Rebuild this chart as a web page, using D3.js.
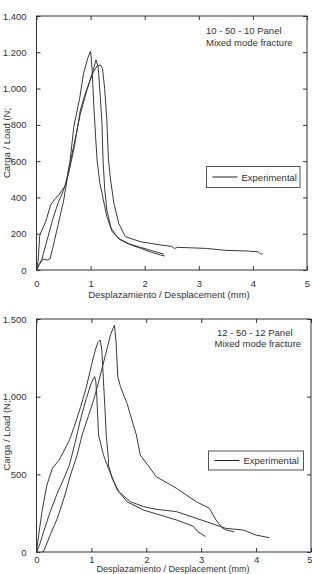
<!DOCTYPE html>
<html><head><meta charset="utf-8">
<script src="https://cdn.jsdelivr.net/npm/d3@7/dist/d3.min.js"></script>
<style>
html,body{margin:0;padding:0;background:#fff;}
svg{display:block;font-family:"Liberation Sans",Arial,sans-serif;}
</style></head>
<body>
<svg id="c" width="312" height="574"></svg>
<script>
// ---------- data ----------
const xTicks = [0,1,2,3,4,5];
const topYTicks = [0,200,400,600,800,1000,1200,1400];
const botYTicks = [0,500,1000,1500];
const topTitle = ["10 - 50 - 10 Panel","Mixed mode fracture"];
const botTitle = ["12 - 50 - 12 Panel","Mixed mode fracture"];
const legendLabel = "Experimental";
const xLabel = "Desplazamiento / Desplacement (mm)";
const yLabel = "Carga / Load (N;";

// 10-50-10 panel specimens [displacement mm, load N]
const top1 = [[0,0],[0.03,50],[0.06,190],[0.1,220],[0.17,266],[0.26,358],[0.35,395],[0.41,413],[0.54,469],[0.62,600],[0.69,790],[0.8,950],[0.87,1084],[0.95,1170],[1.0,1207],[1.03,1100],[1.06,900],[1.1,700],[1.12,606],[1.17,480],[1.21,423],[1.3,294],[1.4,211],[1.55,165],[1.75,138],[1.92,120],[2.1,100],[2.29,83],[2.37,77]];
const top2 = [[0,0],[0.05,30],[0.12,60],[0.2,55],[0.25,62],[0.3,120],[0.4,250],[0.5,380],[0.6,560],[0.7,700],[0.81,860],[0.93,990],[1.03,1084],[1.1,1158],[1.14,1120],[1.18,950],[1.21,809],[1.23,606],[1.26,450],[1.3,330],[1.38,230],[1.5,178],[1.7,145],[1.92,125],[2.15,105],[2.3,92],[2.35,88]];
const top3 = [[0,0],[0.05,30],[0.1,60],[0.2,170],[0.3,280],[0.4,370],[0.5,440],[0.6,540],[0.7,680],[0.81,880],[0.9,970],[0.97,1029],[1.05,1090],[1.12,1125],[1.18,1130],[1.22,1110],[1.26,1000],[1.3,827],[1.33,606],[1.37,496],[1.43,368],[1.52,257],[1.64,184],[1.92,156],[2.29,138],[2.5,130],[2.55,118],[2.6,125],[3.14,119],[3.5,108],[3.87,105],[4.1,100],[4.15,85],[4.18,92]];

// 12-50-12 panel specimens
const bot1 = [[0,0],[0.04,110],[0.1,260],[0.19,431],[0.29,539],[0.41,592],[0.5,650],[0.6,720],[0.68,800],[0.8,930],[0.9,1050],[1.0,1200],[1.07,1300],[1.12,1350],[1.16,1365],[1.19,1300],[1.22,1100],[1.25,900],[1.27,753],[1.31,600],[1.31,560],[1.38,474],[1.5,388],[1.71,324],[1.95,292],[2.18,275],[2.55,260],[2.91,217],[3.27,174],[3.45,152],[3.76,142],[4.0,109],[4.24,92]];
const bot2 = [[0,0],[0.05,40],[0.13,130],[0.25,260],[0.38,380],[0.5,474],[0.6,560],[0.7,700],[0.8,850],[0.9,980],[1.0,1090],[1.06,1129],[1.08,1100],[1.1,990],[1.13,753],[1.22,624],[1.31,539],[1.47,399],[1.65,324],[1.95,270],[2.25,238],[2.55,206],[2.85,167],[2.94,131],[3.08,99]];
const bot3 = [[0.1,0],[0.13,5],[0.25,110],[0.38,217],[0.5,346],[0.62,496],[0.74,624],[0.83,753],[0.95,880],[1.05,990],[1.15,1120],[1.25,1260],[1.35,1400],[1.42,1461],[1.45,1350],[1.48,1130],[1.53,1064],[1.6,1000],[1.65,957],[1.71,882],[1.82,753],[1.89,624],[2.07,539],[2.18,485],[2.55,410],[2.91,324],[3.15,281],[3.27,206],[3.39,152],[3.47,140],[3.6,130]];

// ---------- drawing ----------
const svg = d3.select("#c");
const loc = d3.formatLocale({decimal:",",thousands:".",grouping:[3],currency:["",""]});
const fmt = loc.format(",d");
const ink = "#333";

function panel(cfg){
  const x = d3.scaleLinear().domain([0,5]).range([cfg.l,cfg.r]);
  const y = d3.scaleLinear().domain([0,cfg.ymax]).range([cfg.b,cfg.t]);
  const g = svg.append("g");
  const tl = 4;
  const styleAxis = sel => {
    sel.select(".domain").remove();
    sel.selectAll("line").attr("stroke",ink);
    sel.selectAll("text").attr("fill",ink).style("font-size","9.5px").style("font-family","'Liberation Sans',Arial,sans-serif");
  };
  // bottom
  const bx = g.append("g").attr("transform",`translate(0,${cfg.b})`)
    .call(d3.axisBottom(x).tickValues(xTicks).tickSizeInner(-tl).tickSizeOuter(0).tickPadding(cfg.xpad).tickFormat(d3.format("d")))
    .call(styleAxis);
  if (cfg.clampLast) {
    bx.selectAll(".tick").filter(d=>d===5).select("text").attr("text-anchor","end").attr("x",312-cfg.r);
  }
  // top
  g.append("g").attr("transform",`translate(0,${cfg.t})`)
    .call(d3.axisTop(x).tickValues(xTicks).tickSizeInner(-tl).tickSizeOuter(0).tickFormat(""))
    .call(styleAxis);
  // left
  g.append("g").attr("transform",`translate(${cfg.l},0)`)
    .call(d3.axisLeft(y).tickValues(cfg.yticks).tickSizeInner(-tl).tickSizeOuter(0).tickPadding(10).tickFormat(fmt))
    .call(styleAxis);
  // right
  g.append("g").attr("transform",`translate(${cfg.r},0)`)
    .call(d3.axisRight(y).tickValues(cfg.yticks).tickSizeInner(-tl).tickSizeOuter(0).tickFormat(""))
    .call(styleAxis);
  // frame
  g.append("rect").attr("x",cfg.l).attr("y",cfg.t).attr("width",cfg.r-cfg.l).attr("height",cfg.b-cfg.t)
    .attr("fill","none").attr("stroke",ink).attr("stroke-width",1);
  // lines
  const line = d3.line().x(d=>x(d[0])).y(d=>y(d[1]));
  cfg.series.forEach(s=>{
    g.append("path").datum(s).attr("d",line).attr("fill","none").attr("stroke","#3a3a3a").attr("stroke-width",1);
  });
  // titles
  cfg.title.forEach((t,i)=>{
    g.append("text").attr("x",cfg.titleX[i]).attr("y",cfg.titleY[i]).text(t)
      .attr("fill",ink).style("font-size","9.5px");
  });
  // legend
  const L = cfg.legend;
  g.append("rect").attr("x",L.x).attr("y",L.y).attr("width",L.w).attr("height",L.h)
    .attr("fill","#fff").attr("stroke","#555").attr("stroke-width",1);
  g.append("line").attr("x1",L.x+6).attr("x2",L.x+31).attr("y1",L.y+L.h/2).attr("y2",L.y+L.h/2)
    .attr("stroke","#222").attr("stroke-width",1);
  g.append("text").attr("x",L.x+35).attr("y",L.y+L.h/2+3.5).text(legendLabel).attr("fill",ink).style("font-size","9.5px");
  // axis titles
  g.append("text").attr("x",cfg.xlabX).attr("y",cfg.xlabY).attr("text-anchor","middle").text(xLabel)
    .attr("fill",ink).style("font-size",cfg.xlabSize);
  g.append("text").attr("transform",`translate(9.5,${(cfg.t+cfg.b)/2}) rotate(-90)`).attr("text-anchor","middle").text(yLabel)
    .attr("fill",ink).style("font-size","9.5px");
}

panel({l:36.5,r:307,t:16,b:270,ymax:1400,yticks:topYTicks,series:[top1,top2,top3],xpad:10,
  title:topTitle,titleX:[206,206],titleY:[34,45.5],
  legend:{x:206.5,y:166.5,w:93.5,h:21},xlabX:169,xlabY:298,xlabSize:"9.5px"});
panel({l:36.5,r:311,t:319,b:552,ymax:1500,yticks:botYTicks,series:[bot1,bot2,bot3],clampLast:true,xpad:4.5,
  title:botTitle,titleX:[217,214.5],titleY:[336,347],
  legend:{x:208.5,y:451,w:95,h:19},xlabX:173,xlabY:572,xlabSize:"9px"});
</script>
</body></html>
